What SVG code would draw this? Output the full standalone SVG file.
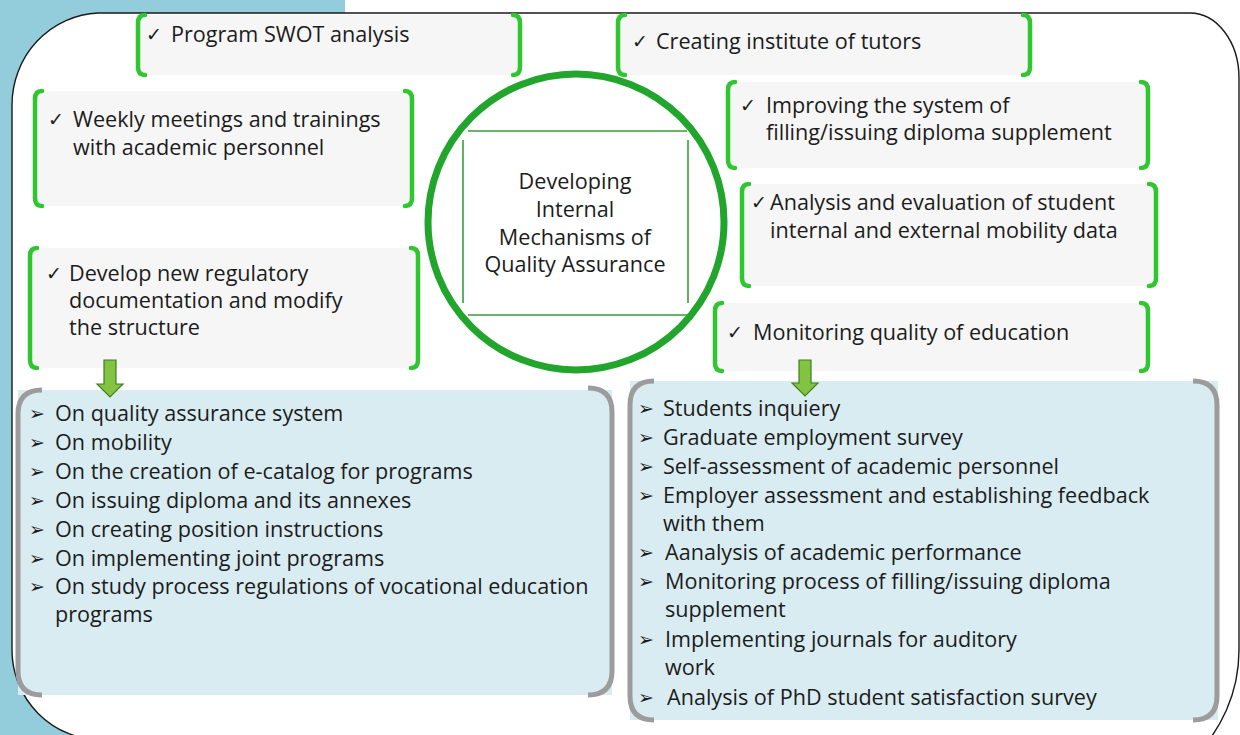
<svg xmlns="http://www.w3.org/2000/svg" width="1240" height="735" viewBox="0 0 1240 735">
<style>
.bg{fill:#93cddb}
.frame{fill:#ffffff;stroke:#1a1a1a;stroke-width:1.4}
.box{fill:#f6f6f6}
.br{fill:none;stroke:#2fc62f;stroke-width:4.5;stroke-linecap:round;stroke-linejoin:round}
.panel{fill:#d9ecf2}
.pb{fill:none;stroke:#9c9c9c;stroke-width:5;stroke-linecap:butt}
.t{font-family:"Open Sans","Noto Sans","DejaVu Sans",sans-serif;font-size:21.6px;fill:#1c1c1c}
.ck{font-family:"DejaVu Sans",sans-serif;font-size:19px;fill:#1c1c1c}
.bu{font-family:"DejaVu Sans",sans-serif;font-size:19px;fill:#1c1c1c}
.c{text-anchor:middle}
.ring{fill:none;stroke:#22a52c;stroke-width:7}
.inner{stroke:#3a9d3a;stroke-width:1.6}
.arr{fill:#82c341;stroke:#3f7f1e;stroke-width:1.2}
</style>
<rect x="0" y="0" width="1240" height="735" fill="#ffffff"/>
<rect class="bg" x="0" y="0" width="345" height="735"/>
<path class="frame" d="M 12 105 A 90 92 0 0 1 98 13 H 1190 A 49 65 0 0 1 1239 78 V 650 A 150 150 0 0 1 1191 760 H 102 V 740 A 90 90 0 0 1 12 650 Z"/>

<g id="center">
<circle class="ring" cx="576" cy="222" r="148"/>
<line class="inner" x1="468" y1="131" x2="687" y2="131"/>
<line class="inner" x1="468" y1="315" x2="688" y2="315"/>
<line class="inner" x1="463" y1="140" x2="463" y2="303"/>
<line class="inner" x1="688" y1="140" x2="688" y2="303"/>
<text class="t c" x="575" y="189">Developing</text>
<text class="t c" x="575" y="217">Internal</text>
<text class="t c" x="575" y="245">Mechanisms of</text>
<text class="t c" x="575" y="272">Quality Assurance</text>
</g>

<g id="swot">
<rect class="box" x="138" y="15" width="382" height="60"/>
<path class="br" d="M 145 15 Q 138 15 138 23 V 67 Q 138 75 145 75"/>
<path class="br" d="M 513 15 Q 520 15 520 23 V 67 Q 520 75 513 75"/>
<text class="ck" x="146" y="41">✓</text>
<text class="t" x="171" y="42">Program SWOT analysis</text>
</g>

<g id="tutors">
<rect class="box" x="618" y="15" width="412" height="60"/>
<path class="br" d="M 625 15 Q 618 15 618 23 V 67 Q 618 75 625 75"/>
<path class="br" d="M 1023 15 Q 1030 15 1030 23 V 67 Q 1030 75 1023 75"/>
<text class="ck" x="632" y="48">✓</text>
<text class="t" x="656" y="49">Creating institute of tutors</text>
</g>

<g id="weekly">
<rect class="box" x="35" y="91" width="377" height="115"/>
<path class="br" d="M 42 91 Q 35 91 35 99 V 198 Q 35 206 42 206"/>
<path class="br" d="M 405 91 Q 412 91 412 99 V 198 Q 412 206 405 206"/>
<text class="ck" x="48" y="126">✓</text>
<text class="t" x="73" y="127">Weekly meetings and trainings</text>
<text class="t" x="73" y="155">with academic personnel</text>
</g>

<g id="develop">
<rect class="box" x="30" y="248" width="388" height="120"/>
<path class="br" d="M 37 248 Q 30 248 30 256 V 360 Q 30 368 37 368"/>
<path class="br" d="M 411 248 Q 418 248 418 256 V 360 Q 418 368 411 368"/>
<text class="ck" x="46" y="280">✓</text>
<text class="t" x="69" y="281">Develop new regulatory</text>
<text class="t" x="69" y="308">documentation and modify</text>
<text class="t" x="69" y="335">the structure</text>
</g>

<g id="improving">
<rect class="box" x="728" y="82" width="420" height="86"/>
<path class="br" d="M 735 82 Q 728 82 728 90 V 160 Q 728 168 735 168"/>
<path class="br" d="M 1141 82 Q 1148 82 1148 90 V 160 Q 1148 168 1141 168"/>
<text class="ck" x="740" y="112">✓</text>
<text class="t" x="766" y="113">Improving the system of</text>
<text class="t" x="766" y="140">filling/issuing diploma supplement</text>
</g>

<g id="analysis">
<rect class="box" x="742" y="184" width="414" height="102"/>
<path class="br" d="M 749 184 Q 742 184 742 192 V 278 Q 742 286 749 286"/>
<path class="br" d="M 1149 184 Q 1156 184 1156 192 V 278 Q 1156 286 1149 286"/>
<text class="ck" x="751" y="209">✓</text>
<text class="t" x="770" y="210">Analysis and evaluation of student</text>
<text class="t" x="770" y="238">internal and external mobility data</text>
</g>

<g id="monitoring">
<rect class="box" x="715" y="303" width="433" height="68"/>
<path class="br" d="M 722 303 Q 715 303 715 311 V 363 Q 715 371 722 371"/>
<path class="br" d="M 1141 303 Q 1148 303 1148 311 V 363 Q 1148 371 1141 371"/>
<text class="ck" x="727" y="339">✓</text>
<text class="t" x="753" y="340">Monitoring quality of education</text>
</g>

<g id="regulations">
<rect class="panel" x="18" y="390" width="594" height="305"/>
<path class="pb" d="M 42 390 Q 18 390 18 414 V 671 Q 18 695 42 695"/>
<path class="pb" d="M 588 388 Q 612 388 612 412 V 671 Q 612 695 588 695"/>
<text class="bu" x="29" y="420">➢</text><text class="t" x="55" y="421">On quality assurance system</text>
<text class="bu" x="29" y="449">➢</text><text class="t" x="55" y="450">On mobility</text>
<text class="bu" x="29" y="478">➢</text><text class="t" x="55" y="479">On the creation of e-catalog for programs</text>
<text class="bu" x="29" y="507">➢</text><text class="t" x="55" y="508">On issuing diploma and its annexes</text>
<text class="bu" x="29" y="536">➢</text><text class="t" x="55" y="537">On creating position instructions</text>
<text class="bu" x="29" y="565">➢</text><text class="t" x="55" y="566">On implementing joint programs</text>
<text class="bu" x="29" y="593">➢</text><text class="t" x="55" y="594">On study process regulations of vocational education</text>
<text class="t" x="55" y="622">programs</text>
</g>

<g id="monitoring-list">
<rect class="panel" x="630" y="381" width="588" height="339"/>
<path class="pb" d="M 654 381 Q 630 381 630 405 V 696 Q 630 720 654 720"/>
<path class="pb" d="M 1193 381 Q 1217 381 1217 405 V 696 Q 1217 720 1193 720"/>
<text class="bu" x="638" y="415">➢</text><text class="t" x="663" y="416">Students inquiery</text>
<text class="bu" x="638" y="444">➢</text><text class="t" x="663" y="445">Graduate employment survey</text>
<text class="bu" x="638" y="473">➢</text><text class="t" x="663" y="474">Self-assessment of academic personnel</text>
<text class="bu" x="638" y="502">➢</text><text class="t" x="663" y="503">Employer assessment and establishing feedback</text>
<text class="t" x="663" y="531">with them</text>
<text class="bu" x="638" y="559">➢</text><text class="t" x="665" y="560">Aanalysis of academic performance</text>
<text class="bu" x="638" y="588">➢</text><text class="t" x="665" y="589">Monitoring process of filling/issuing diploma</text>
<text class="t" x="665" y="617">supplement</text>
<text class="bu" x="638" y="646">➢</text><text class="t" x="665" y="647">Implementing journals for auditory</text>
<text class="t" x="665" y="675">work</text>
<text class="bu" x="638" y="704">➢</text><text class="t" x="667" y="705">Analysis of PhD student satisfaction survey</text>
</g>

<g id="connectors">
<polygon class="arr" points="104,360 116,360 116,384 123,384 110,397 97,384 104,384"/>
<polygon class="arr" points="799,360 811,360 811,383 818,383 805,396 792,383 799,383"/>
</g>
</svg>
